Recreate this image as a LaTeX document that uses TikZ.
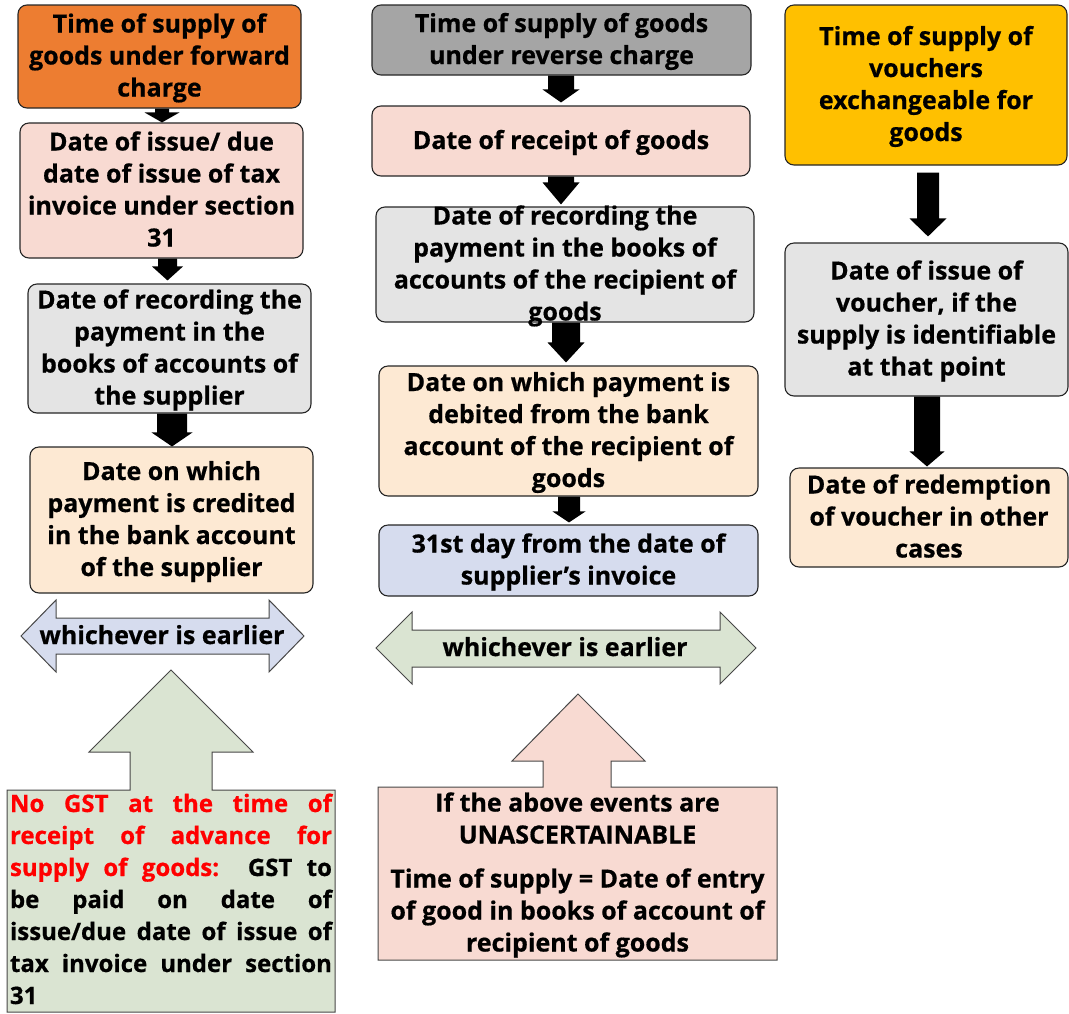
\documentclass[tikz,border=0pt]{standalone}
\usepackage{fontspec}
\setmainfont{Open Sans}[BoldFeatures={FakeBold=0.6}]
\usetikzlibrary{calc}

\definecolor{hdorange}{HTML}{ED7D31}
\definecolor{hdgray}{HTML}{A5A5A5}
\definecolor{hdgold}{HTML}{FFC000}
\definecolor{fpink}{HTML}{F8DAD2}
\definecolor{fgray}{HTML}{E4E4E4}
\definecolor{fpeach}{HTML}{FDE9D3}
\definecolor{flav}{HTML}{D6DCEE}
\definecolor{fgreen}{HTML}{DAE4D2}
\definecolor{edge}{HTML}{262626}
\definecolor{alert}{HTML}{FF0000}

\newcommand\boxfont{\fontsize{25}{32}\selectfont\bfseries}
\newcommand\notefont{\fontsize{24}{32}\selectfont\bfseries}
% strut of one 32pt line; wraps a block so every node is centred on its lines
\newcommand\linestrut{\rule[-8pt]{0pt}{32pt}}
\newcommand\lines[1]{\linestrut#1\linestrut}

\tikzset{
  box/.style={draw=edge, line width=1.1pt, rounded corners=9pt, inner sep=0pt,
    align=center, font=\boxfont},
  label text/.style={inner sep=0pt, align=center, font=\boxfont},
  shape line/.style={draw=edge!85, line width=1pt, line join=miter},
  flowfill/.style={fill=black},
}

% vertical block arrow from the bottom of #1 to the top of #2
% #3 x centre, #4 half shaft, #5 half head, #6 head length, #7 start gap, #8 end gap
\newcommand\flowarrow[8]{%
  \fill[flowfill] let \p1=(#1.south), \p2=(#2.north) in
    ({(#3-#4)*1pt},{\y1-#7pt}) -- ({(#3+#4)*1pt},{\y1-#7pt})
    -- ({(#3+#4)*1pt},{\y2+#8pt+#6pt}) -- ({(#3+#5)*1pt},{\y2+#8pt+#6pt})
    -- ({#3*1pt},{\y2+#8pt})
    -- ({(#3-#5)*1pt},{\y2+#8pt+#6pt}) -- ({(#3-#4)*1pt},{\y2+#8pt+#6pt}) -- cycle;}

\begin{document}
\begin{tikzpicture}[x=1pt,y=-1pt]
\useasboundingbox (0,0) rectangle (1069,1013);

% ---------- forward charge column ----------
\node[box, fill=hdorange, minimum width=283pt, minimum height=103pt] (A1) at (159.5,56.5)
  {\lines{Time of supply of\\goods under forward\\charge}};
\node[box, fill=fpink, minimum width=283pt, minimum height=135pt] (A2) at (161.5,190.5)
  {\lines{Date of issue/ due\\date of issue of tax\\invoice under section\\31}};
\node[box, fill=fgray, minimum width=283pt, minimum height=129pt] (A3) at (169.5,348.5)
  {\lines{Date of recording the\\payment in the\\books of accounts of\\the supplier}};
\node[box, fill=fpeach, minimum width=283pt, minimum height=146pt] (A4) at (171.5,520)
  {\lines{Date on which\\payment is credited\\in the bank account\\of the supplier}};

\flowarrow{A1}{A2}{162}{7}{17.5}{10}{0}{0}
\flowarrow{A2}{A3}{167.5}{9.5}{15.5}{14}{0}{3}
\flowarrow{A3}{A4}{172}{15}{20.5}{14}{0}{0}

\draw[shape line, fill=flav] (21,636) -- (56,600) -- (56,618) -- (269,618) -- (269,600)
  -- (304,636) -- (269,672) -- (269,654) -- (56,654) -- (56,672) -- cycle;
\node[label text] (E1) at (162,636) {\lines{whichever is earlier}};

\draw[shape line, fill=fgreen] (7,790) -- (130,790) -- (130,752) -- (89,752) -- (171,670)
  -- (253,752) -- (212,752) -- (212,790) -- (335,790) -- (335,1012) -- (7,1012) -- cycle;
\node[inner sep=0pt, text width=322pt, align=justify, font=\notefont] (N1) at (171,900)
  {\linestrut\textcolor{alert}{No GST at the time of\linebreak receipt of advance for\linebreak
   supply of goods:}\ \ GST to\linebreak be paid on date of\linebreak
   issue/due date of issue of\linebreak tax invoice under section\linebreak 31\linestrut};

% ---------- reverse charge column ----------
\node[box, fill=hdgray, minimum width=379pt, minimum height=70pt] (B1) at (561.5,40)
  {\lines{Time of supply of goods\\under reverse charge}};
\node[box, fill=fpink, minimum width=378pt, minimum height=70pt] (B2) at (561,141)
  {\lines{Date of receipt of goods}};
\node[box, fill=fgray, minimum width=378pt, minimum height=115pt] (B3) at (565,264.5) {};
\node[label text] (B3t) at (565,264.5)
  {\lines{Date of recording the\\payment in the books of\\accounts of the recipient of\\goods}};
\node[box, fill=fpeach, minimum width=379pt, minimum height=130pt] (B4) at (568.5,431)
  {\lines{Date on which payment is\\debited from the bank\\account of the recipient of\\goods}};
\node[box, fill=flav, minimum width=379pt, minimum height=71pt] (B5) at (568.5,560.5)
  {\lines{31st day from the date of\\supplier’s invoice}};

\flowarrow{B1}{B2}{561}{13}{18.5}{13}{0}{3}
\flowarrow{B2}{B3}{561}{13}{18.5}{22}{0}{2}
\flowarrow{B3}{B4}{566}{14}{18.5}{20}{0}{3}
\flowarrow{B4}{B5}{569}{11}{16.5}{11}{0}{2}

\draw[shape line, fill=fgreen] (376,648) -- (412,612) -- (412,630) -- (720,630) -- (720,612)
  -- (756,648) -- (720,684) -- (720,667) -- (412,667) -- (412,684) -- cycle;
\node[label text] (E2) at (565,648) {\lines{whichever is earlier}};

\draw[shape line, fill=fpink] (378,787) -- (543,787) -- (543,761) -- (512,761) -- (578,694)
  -- (645,761) -- (611,761) -- (611,787) -- (777,787) -- (777,960) -- (378,960) -- cycle;
\node[label text] (N2) at (577.5,873.5)
  {\lines{If the above events are\\UNASCERTAINABLE\\[12pt]Time of supply = Date of entry\\
   of good in books of account of\\recipient of goods}};

% ---------- voucher column ----------
\node[box, fill=hdgold, minimum width=282pt, minimum height=160pt] (C1) at (926,85)
  {\lines{Time of supply of\\vouchers\\exchangeable for\\goods}};
\node[box, fill=fgray, minimum width=283pt, minimum height=153pt] (C2) at (926.5,319.5)
  {\lines{Date of issue of\\voucher, if the\\supply is identifiable\\at that point}};
\node[box, fill=fpeach, minimum width=278pt, minimum height=99pt] (C3) at (929,517.5)
  {\lines{Date of redemption\\of voucher in other\\cases}};

\flowarrow{C1}{C2}{928}{11}{18.5}{18}{7}{6}
\flowarrow{C2}{C3}{927}{13}{17.5}{15}{0}{1}
\end{tikzpicture}
\end{document}
